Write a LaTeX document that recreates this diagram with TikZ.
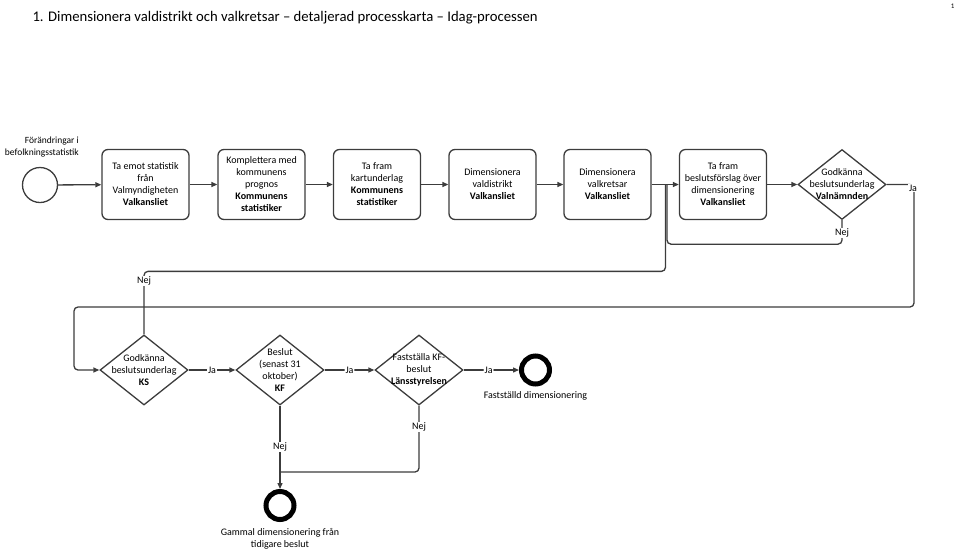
\documentclass[tikz,border=0pt]{standalone}
\usepackage{fontspec}
\setmainfont{Carlito}
\usetikzlibrary{shapes.geometric,arrows.meta}
\definecolor{ln}{HTML}{3C3C3C}
\begin{document}
\begin{tikzpicture}[x=1pt,y=-1pt,
  txt/.style={font=\fontsize{10}{12}\selectfont, align=center, text=black},
  box/.style={draw=ln, line width=1.3pt, rounded corners=6pt, minimum width=87pt, minimum height=70pt, inner sep=0pt, txt},
  dia/.style={draw=ln, line width=1.3pt, diamond, minimum width=88pt, minimum height=70pt, inner sep=0pt},
  dtext/.style={txt, inner sep=0pt},
  flow/.style={draw=ln, line width=1.3pt, rounded corners=4pt},
  arr/.style={flow, -{Triangle[length=6pt,width=5pt]}},
  lab/.style={txt, fill=white, inner sep=1pt},
  ev/.style={circle, draw=ln, line width=1.3pt, minimum size=35pt, inner sep=0pt},
  evend/.style={circle, draw=black, line width=5pt, minimum size=28pt, inner sep=0pt}]
\useasboundingbox (0,0) rectangle (960,550);

\node[anchor=west, font=\fontsize{14.7}{18}\selectfont] (title) at (29,18) {1. Dimensionera valdistrikt och valkretsar – detaljerad processkarta – Idag-processen};
\node[anchor=north east, font=\fontsize{7}{8}\selectfont] (pg) at (958,0) {1};

\node[ev] (start) at (40,185) {};
\node[txt, font=\fontsize{9.5}{12}\selectfont, align=right, anchor=east, inner sep=0pt] (startlab) at (79,147) {Förändringar i\\befolkningsstatistik};

\node[box] (b1) at (145.5,184.5) {Ta emot statistik\\från\\Valmyndigheten\\\textbf{Valkansliet}};
\node[box] (b2) at (261.5,184.5) {Komplettera med\\kommunens\\prognos\\\textbf{Kommunens}\\\textbf{statistiker}};
\node[box] (b3) at (377,184.5) {Ta fram\\kartunderlag\\\textbf{Kommunens}\\\textbf{statistiker}};
\node[box] (b4) at (492.5,184.5) {Dimensionera\\valdistrikt\\\textbf{Valkansliet}};
\node[box] (b5) at (607.5,184.5) {Dimensionera\\valkretsar\\\textbf{Valkansliet}};
\node[box] (b6) at (723,184.5) {Ta fram\\beslutsförslag över\\dimensionering\\\textbf{Valkansliet}};

\node[dia] (d1) at (842,184.5) {};
\node[dtext] (d1t) at (842,184) {Godkänna\\beslutsunderlag\\\textbf{Valnämnden}};

\node[dia] (ks) at (144,370) {};
\node[dtext] (kst) at (144,370) {Godkänna\\beslutsunderlag\\\textbf{KS}};
\node[dia] (kf) at (280,370) {};
\node[dtext] (kft) at (280,370) {Beslut\\(senast 31\\oktober)\\\textbf{KF}};
\node[dia] (lan) at (419,370) {};
\node[dtext] (lant) at (419,370) {Fastställa KF-\\beslut\\\textbf{Länsstyrelsen}};

\node[evend] (fin) at (535.5,370) {};
\node[txt] (finlab) at (535.5,396) {Fastställd dimensionering};
\node[evend] (old) at (280,505.5) {};
\node[txt] (oldlab) at (280,539) {Gammal dimensionering från\\tidigare beslut};

% top row
\draw[arr] (start) -- (b1);
\draw[arr] (b1) -- (b2);
\draw[arr] (b2) -- (b3);
\draw[arr] (b3) -- (b4);
\draw[arr] (b4) -- (b5);
\draw[arr] (b5) -- (b6);
\draw[arr] (b6) -- (d1);

% Valnämnden Ja
\coordinate (cja) at (914,184.5);
\coordinate (cbot) at (914,307);
\coordinate (cleft) at (74,307);
\draw[arr] (d1.east) -- (cja) -- (cbot) -- (cleft) |- (ks.west);
\node[lab] (ja1) at (913,188) {Ja};

% Valnämnden Nej
\coordinate (nj1) at (667,185);
\draw[flow] (d1.south) -- ++(0,24) -| (nj1);
\node[lab] (nej1) at (842,233) {Nej};

% KS Nej
\coordinate (nj2) at (665.5,185);
\draw[flow] (ks.north) -- ++(0,-63) -| (nj2);
\node[lab] (nej2) at (144,281) {Nej};

% bottom row
\draw[arr] (ks) -- node[lab] (ja2) {Ja} (kf);
\draw[arr] (kf) -- node[lab] (ja3) {Ja} (lan);
\draw[arr] (lan) -- node[lab, pos=0.45] (ja4) {Ja} (fin);

\draw[arr] (kf.south) -- (old.north);
\node[lab] (nej3) at (280,447) {Nej};
\coordinate (join) at (280,472);
\draw[flow] (lan.south) |- (join);
\node[lab] (nej4) at (419,427) {Nej};
\end{tikzpicture}
\end{document}
